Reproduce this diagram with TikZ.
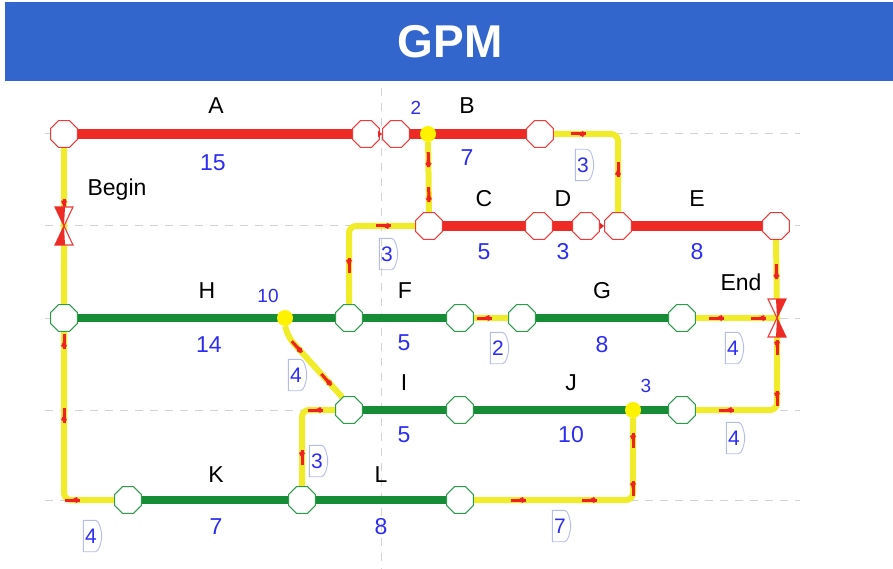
\documentclass[tikz,border=0pt]{standalone}
\usepackage{fontspec}
\setmainfont{Liberation Sans}
\usetikzlibrary{shapes.geometric,decorations.markings,arrows.meta}

\definecolor{titleblue}{HTML}{3366CC}
\definecolor{critred}{HTML}{EE2A24}
\definecolor{noderedline}{HTML}{EE3A3A}
\definecolor{taskgreen}{HTML}{168C36}
\definecolor{nodegreenline}{HTML}{2E9A4C}
\definecolor{linkyellow}{HTML}{F0EC2A}
\definecolor{dotyellow}{HTML}{FFF200}
\definecolor{tickred}{HTML}{EE2222}
\definecolor{durblue}{HTML}{2C2CF2}
\definecolor{gridgrey}{HTML}{D2D2D2}
\definecolor{lagframe}{HTML}{B4BCEA}

\pgfdeclarelayer{bg}
\pgfsetlayers{bg,main}

% red arrow mark placed along a link
\newcommand\linktick{%
  \draw[tickred,line width=3pt] (-11pt,0pt) -- (4pt,0pt);
  \fill[tickred] (6pt,0pt) -- (-3pt,5pt) -- (-3pt,-5pt) -- cycle;}

% lag value in a small frame with a brace-like right side
\newcommand\lagbox[3]{%
  \node[lagtext] (#1) at (#2) {#3};
  \draw[lagline] ([xshift=-3pt]#1.north east) -- (#1.north west) -- (#1.south west)
    -- ([xshift=-3pt]#1.south east)
    .. controls +(3pt,0pt) and +(0pt,-6pt) .. ([xshift=3pt]#1.east)
    .. controls +(0pt,6pt) and +(3pt,0pt) .. ([xshift=-3pt]#1.north east);}

\tikzset{
  rnode/.style={regular polygon, regular polygon sides=8, minimum size=29pt,
    inner sep=0pt, draw=noderedline, fill=white, line width=1.1pt},
  gnode/.style={rnode, draw=nodegreenline},
  ydot/.style={circle, fill=dotyellow, minimum size=16pt, inner sep=0pt},
  rbar/.style={critred, line width=10pt},
  gbar/.style={taskgreen, line width=7.5pt},
  link/.style={linkyellow, line width=6pt, rounded corners=7pt},
  shortlink/.style={tickred, line width=1.4pt, -{Triangle[length=4pt,width=6pt]}},
  tickat/.style={postaction={decorate,decoration={markings,
    mark=at position #1 with {\linktick}}}},
  gridline/.style={gridgrey, line width=1pt, dash pattern=on 8pt off 7pt},
  actlabel/.style={font=\fontsize{23}{26}\selectfont, text=black},
  durlabel/.style={font=\fontsize{23}{26}\selectfont, text=durblue},
  laglabel/.style={font=\fontsize{19}{22}\selectfont, text=durblue},
  lagtext/.style={font=\fontsize{21}{24}\selectfont, text=durblue,
    minimum width=15pt, minimum height=31pt, inner sep=0pt},
  lagline/.style={lagframe, line width=0.9pt},
  msoutline/.style={noderedline, line width=1.1pt, fill=white},
  msleft/.pic={
    \filldraw[msoutline] (-9,-19) -- (9,-19) -- (0,0) -- cycle;
    \filldraw[msoutline] (-9,19) -- (9,19) -- (0,0) -- cycle;
    \fill[critred] (-9,-19) -- (1,-19) -- (0,0) -- cycle;
    \fill[critred] (-9,19) -- (1,19) -- (0,0) -- cycle;},
  msright/.pic={
    \filldraw[msoutline] (-9,-19) -- (9,-19) -- (0,0) -- cycle;
    \filldraw[msoutline] (-9,19) -- (9,19) -- (0,0) -- cycle;
    \fill[critred] (-1,-19) -- (9,-19) -- (0,0) -- cycle;
    \fill[critred] (-1,19) -- (9,19) -- (0,0) -- cycle;},
}

\begin{document}
\begin{tikzpicture}[x=1pt,y=-1pt]
\useasboundingbox (0,0) rectangle (893,569);

% title bar
\fill[titleblue] (5,2) rectangle (893,81);
\node[font=\fontsize{46}{50}\selectfont\bfseries, text=white] (title) at (450,42) {GPM};

% event nodes, critical chain
\node[rnode] (a1) at (64,134) {};
\node[rnode] (a2) at (366,134) {};
\node[rnode] (b1) at (396,134) {};
\node[rnode] (b2) at (540,134) {};
\node[ydot]  (bdot) at (428,134) {};
\node[rnode] (c1) at (429,226) {};
\node[rnode] (c2) at (539,226) {};
\node[rnode] (d2) at (586,226) {};
\node[rnode] (e1) at (618,226) {};
\node[rnode] (e2) at (776,226) {};

% event nodes, other tasks
\node[gnode] (h1) at (64,318) {};
\node[ydot]  (hdot) at (285,318) {};
\node[gnode] (f1) at (349,318) {};
\node[gnode] (f2) at (460,318) {};
\node[gnode] (g1) at (522,318) {};
\node[gnode] (g2) at (682,318) {};
\node[gnode] (i1) at (349,410) {};
\node[gnode] (i2) at (460,410) {};
\node[ydot]  (jdot) at (633,410) {};
\node[gnode] (j2) at (682,410) {};
\node[gnode] (k1) at (128,500) {};
\node[gnode] (k2) at (302,500) {};
\node[gnode] (l2) at (460,500) {};

% milestones
\coordinate (begin) at (64,226);
\coordinate (end) at (777,318);
\pic at (begin) {msleft};
\pic at (end) {msright};

\begin{pgfonlayer}{bg}
  % time grid
  \foreach \yy in {134,226,318,410,500}
    \draw[gridline] (45,\yy) -- (800,\yy);
  \draw[gridline] (381,88) -- (381,569);

  % task bars
  \draw[rbar] (a1) -- (a2);
  \draw[rbar] (b1) -- (b2);
  \draw[rbar] (c1) -- (c2);
  \draw[rbar] (c2) -- (d2);
  \draw[rbar] (e1) -- (e2);
  \draw[gbar] (h1) -- (f1);
  \draw[gbar] (f1) -- (f2);
  \draw[gbar] (g1) -- (g2);
  \draw[gbar] (i1) -- (i2);
  \draw[gbar] (i2) -- (j2);
  \draw[gbar] (k1) -- (k2);
  \draw[gbar] (k2) -- (l2);

  % dependency links
  \draw[link, tickat=0.3] (begin) -- (a1.south);
  \draw[link, tickat=0.55] (begin) -- (h1.north);
  \draw[link, tickat=0.37, tickat=0.6, tickat=0.88] (begin) |- (k1.west);
  \draw[link, tickat=0.3, tickat=0.8] (bdot) -- (c1.north);
  \draw[link, tickat=0.2, tickat=0.72] (b2.east) -| (e1.north);
  \draw[link, tickat=0.3, tickat=0.8] (f1.north) |- (c1.west);
  \draw[link, tickat=0.3, tickat=0.78] (hdot.south) -- ++(4,12) -- (i1.118);
  \draw[link, tickat=0.4] (f2.east) -- (g1.west);
  \draw[link, tickat=0.3, tickat=0.82] (g2.east) -- (end);
  \draw[link, tickat=0.45] (e2.south) -- (end);
  \draw[link, tickat=0.2, tickat=0.55, tickat=0.85] (j2.east) -| (end);
  \draw[link, tickat=0.3, tickat=0.85] (k2.north) |- (i1.west);
  \draw[link, tickat=0.2, tickat=0.5, tickat=0.72, tickat=0.92] (l2.east) -| (jdot.south);
\end{pgfonlayer}

% short finish-to-start arrows between adjacent events
\draw[shortlink] (a2.east) -- (b1.west);
\draw[shortlink] (d2.east) -- (e1.west);

% activity names and durations
\node[actlabel] (lA) at (216,106) {A};  \node[durlabel] (dA) at (213,163) {15};
\node[actlabel] (lB) at (467,106) {B};  \node[durlabel] (dB) at (467,158) {7};
\node[actlabel] (lC) at (484,199) {C};  \node[durlabel] (dC) at (484,252) {5};
\node[actlabel] (lD) at (563,199) {D};  \node[durlabel] (dD) at (563,252) {3};
\node[actlabel] (lE) at (697,199) {E};  \node[durlabel] (dE) at (697,252) {8};
\node[actlabel] (lH) at (207,291) {H};  \node[durlabel] (dH) at (209,345) {14};
\node[actlabel] (lF) at (405,291) {F};  \node[durlabel] (dF) at (404,343) {5};
\node[actlabel] (lG) at (602,291) {G};  \node[durlabel] (dG) at (602,345) {8};
\node[actlabel] (lI) at (404,383) {I};  \node[durlabel] (dI) at (404,435) {5};
\node[actlabel] (lJ) at (571,383) {J};  \node[durlabel] (dJ) at (571,435) {10};
\node[actlabel] (lK) at (216,475) {K};  \node[durlabel] (dK) at (216,527) {7};
\node[actlabel] (lL) at (381,475) {L};  \node[durlabel] (dL) at (381,527) {8};
\node[actlabel] (lBegin) at (117,190) {Begin};
\node[actlabel] (lEnd) at (741,282) {End};

% offsets of the start points on the bars
\node[laglabel] (oB) at (416,108) {2};
\node[laglabel] (oH) at (268,296) {10};
\node[laglabel] (oJ) at (646,386) {3};

% lags on the links
\lagbox{lagBE}{583,165}{3}
\lagbox{lagFC}{387,254}{3}
\lagbox{lagHI}{296,375}{4}
\lagbox{lagFG}{498,348}{2}
\lagbox{lagGEnd}{733,348}{4}
\lagbox{lagJEnd}{734,438}{4}
\lagbox{lagLJ}{560,526}{7}
\lagbox{lagKI}{317,461}{3}
\lagbox{lagBK}{91,536}{4}
\end{tikzpicture}
\end{document}
